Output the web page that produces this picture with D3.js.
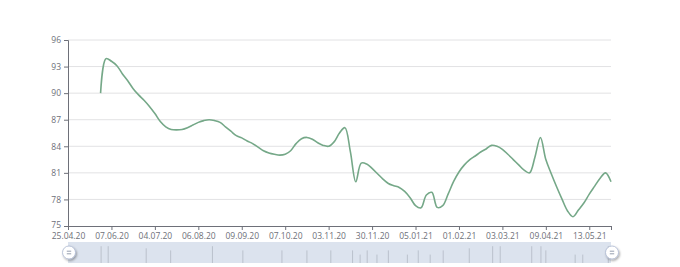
<!DOCTYPE html>
<html lang="en">
<head>
<meta charset="UTF-8">
<title>Line chart with slider</title>
<style>
  body, html { margin: 0; background: #fff; }
  #chart { width: 680px; height: 267px; }
  .axis text { font-family: "Open Sans", sans-serif; font-size: 8.5px; fill: #6e7079; }
  .grid line { stroke: #e2e2e4; stroke-width: 1; }
</style>
</head>
<body>
<div id="chart"></div>
<script src="https://cdn.jsdelivr.net/npm/d3@7"></script>
<script>
// category axis: one slot per observation, label every 8th
const tickLabels = ["25.04.20", "07.06.20", "04.07.20", "06.08.20", "09.09.20", "07.10.20",
  "03.11.20", "30.11.20", "05.01.21", "01.02.21", "03.03.21", "09.04.21", "13.05.21"];
const labelEvery = 8;

const values = [
  null, null, null, null, null, null,
  90.0, 93.9, 93.6, 93.1, 92.2, 91.4, 90.5, 89.8, 89.2, 88.5,
  87.7, 86.8, 86.2, 85.9, 85.85, 85.9, 86.1, 86.4, 86.7, 86.9,
  87.0, 86.9, 86.7, 86.2, 85.7, 85.2, 84.95, 84.6, 84.3, 83.9,
  83.5, 83.25, 83.1, 83.0, 83.1, 83.5, 84.3, 84.85, 85.0, 84.8,
  84.4, 84.1, 84.0, 84.5, 85.5, 86.1, 83.4, 80.0, 82.1, 82.0,
  81.5, 80.9, 80.3, 79.8, 79.55, 79.35, 78.9, 78.2, 77.3, 77.05,
  78.5, 78.8, 77.1, 77.3, 78.6, 80.0, 81.1, 81.9, 82.5, 82.9,
  83.35, 83.7, 84.1, 84.0, 83.65, 83.1, 82.5, 81.9, 81.3, 81.0,
  82.8, 85.0, 82.5, 80.9, 79.4, 78.0, 76.7, 76.05, 76.8, 77.6,
  78.6, 79.5, 80.4, 81.0, 80.0
];
const categories = d3.range(values.length);

const yTicks = [75, 78, 81, 84, 87, 90, 93, 96];

// slider data shadow: category index and relative height
const shadowIdx = [6.1, 7.4, 14.4, 18.9, 26.6, 32.2, 39.4, 44, 48.4, 52.4, 53.8, 55.1, 56.9,
  59, 62.5, 64.5, 66.7, 69.1, 73.9, 78.2, 79.6, 85.4, 87.1, 88, 93.4, 94.8, 99.5];
const shadowLevel = [0.8, 0.8, 0.7, 0.6, 0.8, 0.6, 0.6, 0.6, 0.6, 0.6, 0.4, 0.6, 0.4,
  0.6, 0.4, 0.6, 0.4, 0.6, 0.7, 0.8, 0.8, 0.8, 0.8, 0.6, 0.4, 0.4, 0.8];

const width = 680, height = 267;
const margin = { top: 40, right: 69, bottom: 41, left: 68 };

const svg = d3.select("#chart").append("svg")
  .attr("width", width)
  .attr("height", height);

const x = d3.scaleLinear()
  .domain([0, categories.length - 1])
  .range([margin.left, width - margin.right]);

const y = d3.scaleLinear()
  .domain([75, 96])
  .range([height - margin.bottom, margin.top]);

// horizontal grid
svg.append("g").attr("class", "grid")
  .selectAll("line")
  .data(yTicks.slice(1))
  .join("line")
  .attr("x1", x.range()[0])
  .attr("x2", x.range()[1])
  .attr("y1", d => y(d))
  .attr("y2", d => y(d));

// y axis
const yAxis = svg.append("g").attr("class", "axis")
  .attr("transform", `translate(${margin.left},0)`)
  .call(d3.axisLeft(y).tickValues(yTicks).tickSize(4).tickPadding(3));
yAxis.select(".domain").attr("stroke", "#6e7079");
yAxis.selectAll(".tick line").attr("stroke", "#6e7079");
// lift the bottom label a touch so it clears the first date
yAxis.selectAll(".tick text").filter(d => d === 75).attr("dy", "0.2em");

// x axis
const labelIdx = tickLabels.map((_, i) => i * labelEvery);
const xAxis = svg.append("g").attr("class", "axis")
  .attr("transform", `translate(0,${height - margin.bottom})`)
  .call(d3.axisBottom(x)
    .tickValues(labelIdx.concat([categories.length - 1]))
    .tickFormat(d => tickLabels[d / labelEvery] || "")
    .tickSize(4).tickSizeOuter(0).tickPadding(3));
xAxis.select(".domain").attr("stroke", "#6e7079");
xAxis.selectAll(".tick line").attr("stroke", "#6e7079");

// series
const line = d3.line()
  .defined(d => d != null)
  .x((d, i) => x(i))
  .y(d => y(d))
  .curve(d3.curveCatmullRom.alpha(0.5));

svg.append("path")
  .datum(values)
  .attr("fill", "none")
  .attr("stroke", "#75a888")
  .attr("stroke-width", 1.6)
  .attr("d", line);

// data zoom slider
const sTop = 242, sBottom = 263;
const slider = svg.append("g");
slider.append("rect")
  .attr("x", x.range()[0])
  .attr("y", sTop)
  .attr("width", x.range()[1] - x.range()[0])
  .attr("height", sBottom - sTop)
  .attr("fill", "#dce3ee");

slider.selectAll("line.shadow")
  .data(shadowIdx)
  .join("line")
  .attr("class", "shadow")
  .attr("x1", d => x(d))
  .attr("x2", d => x(d))
  .attr("y1", (d, i) => sBottom - (sBottom - sTop) * shadowLevel[i])
  .attr("y2", sBottom)
  .attr("stroke", "#b3b9c4")
  .attr("stroke-width", 0.8);

const defs = svg.append("defs");
const f = defs.append("filter").attr("id", "hs").attr("x", "-50%").attr("y", "-50%")
  .attr("width", "200%").attr("height", "200%");
f.append("feDropShadow").attr("dx", 1).attr("dy", 1.5).attr("stdDeviation", 1.2)
  .attr("flood-color", "#000").attr("flood-opacity", 0.35);

const handleY = (sTop + sBottom) / 2;
const handles = slider.selectAll("g.handle")
  .data(x.range())
  .join("g")
  .attr("class", "handle")
  .attr("transform", d => `translate(${d + 1},${handleY})`);

handles.append("circle")
  .attr("r", 6.5)
  .attr("fill", "#fff")
  .attr("stroke", "#acb8d1")
  .attr("stroke-width", 0.8)
  .attr("filter", "url(#hs)");

handles.selectAll("line")
  .data([-1.3, 1.3])
  .join("line")
  .attr("x1", -2.2).attr("x2", 2.2)
  .attr("y1", d => d).attr("y2", d => d)
  .attr("stroke", "#8a94a6")
  .attr("stroke-width", 0.9);
</script>
</body>
</html>
